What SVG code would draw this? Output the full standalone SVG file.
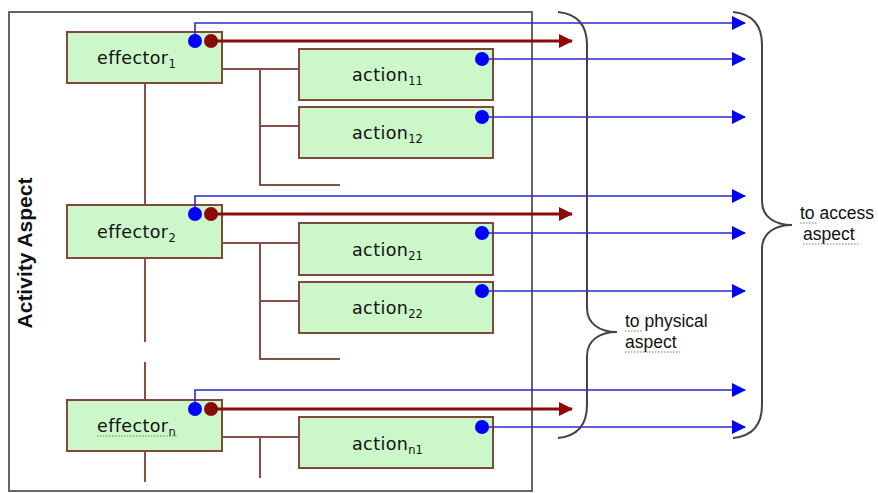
<svg xmlns="http://www.w3.org/2000/svg" width="878" height="493" viewBox="0 0 878 493">
  <style>
    .box { fill: #ccf7c8; stroke: #7d4a3c; stroke-width: 2; }
    .lbl { font-family: "DejaVu Sans", Verdana, sans-serif; font-size: 17.5px; fill: #111; letter-spacing: 0.4px; }
    .sub { font-size: 11.5px; letter-spacing: 0; }
    .tree { fill: none; stroke: #8b4c4c; stroke-width: 2; }
    .blue { fill: none; stroke: #2a2ad0; stroke-width: 1.6; }
    .red { fill: none; stroke: #8b0a0a; stroke-width: 3; }
    .bdot { fill: #0000ff; }
    .rdot { fill: #8b0a0a; }
    .brace { fill: none; stroke: #444; stroke-width: 2; }
    .note { font-family: "Liberation Sans", Arial, sans-serif; font-size: 17.5px; fill: #111; }
    .squig { fill: none; stroke: #3aa03a; stroke-width: 1; stroke-dasharray: 1.5 1.5; }
  </style>
  <defs>
    <marker id="ab" markerUnits="userSpaceOnUse" markerWidth="14" markerHeight="14" refX="13" refY="7" orient="auto">
      <path d="M0,0 L14,7 L0,14 Z" fill="#0000ff"/>
    </marker>
    <marker id="ar" markerUnits="userSpaceOnUse" markerWidth="14" markerHeight="14" refX="13" refY="7" orient="auto">
      <path d="M0,0 L14,7 L0,14 Z" fill="#8b0a0a"/>
    </marker>
  </defs>

  <rect width="878" height="493" fill="#ffffff"/>

  <!-- activity aspect frame -->
  <g id="activity-aspect">
    <rect x="9" y="12" width="523" height="479" fill="none" stroke="#666" stroke-width="2"/>
    <text x="0" y="0" transform="translate(32,253) rotate(-90)" text-anchor="middle" font-family="Liberation Sans, Arial, sans-serif" font-weight="bold" font-size="21" fill="#111">Activity Aspect</text>
  </g>

  <!-- structural tree lines -->
  <g id="tree">
    <path class="tree" d="M145,83 V205"/>
    <path class="tree" d="M145,258 V342 M145,362 V400 M145,451 V482"/>
    <path class="tree" d="M222,69 H299 M260,69 V185 H340 M260,126 H299"/>
    <path class="tree" d="M222,243 H299 M260,243 V359 H340 M260,301 H299"/>
    <path class="tree" d="M222,437 H299 M260,437 V478"/>
  </g>

  <!-- effectors -->
  <g id="effector1">
    <rect class="box" x="67" y="32" width="155" height="51"/>
    <text class="lbl" x="97" y="64">effector<tspan class="sub" dy="4">1</tspan></text>
  </g>
  <g id="effector2">
    <rect class="box" x="67" y="205" width="155" height="53"/>
    <text class="lbl" x="97" y="238">effector<tspan class="sub" dy="4">2</tspan></text>
  </g>
  <g id="effectorn">
    <rect class="box" x="67" y="400" width="155" height="51"/>
    <text class="lbl" x="97" y="432">effector<tspan class="sub" dy="4">n</tspan></text>
    <path class="squig" d="M97,436 H178"/>
  </g>

  <!-- actions -->
  <g id="action11">
    <rect class="box" x="299" y="49" width="194" height="51"/>
    <text class="lbl" x="352" y="81">action<tspan class="sub" dy="4">11</tspan></text>
  </g>
  <g id="action12">
    <rect class="box" x="299" y="107" width="194" height="51"/>
    <text class="lbl" x="352" y="139">action<tspan class="sub" dy="4">12</tspan></text>
  </g>
  <g id="action21">
    <rect class="box" x="299" y="223" width="194" height="52"/>
    <text class="lbl" x="352" y="256">action<tspan class="sub" dy="4">21</tspan></text>
  </g>
  <g id="action22">
    <rect class="box" x="299" y="282" width="194" height="51"/>
    <text class="lbl" x="352" y="314">action<tspan class="sub" dy="4">22</tspan></text>
  </g>
  <g id="actionn1">
    <rect class="box" x="299" y="417" width="194" height="51"/>
    <text class="lbl" x="352" y="450">action<tspan class="sub" dy="4">n1</tspan></text>
  </g>

  <!-- outgoing connectors -->
  <g id="connectors">
    <path class="blue" d="M195,41 V23 H745" marker-end="url(#ab)"/>
    <path class="red" d="M211,41 H572" marker-end="url(#ar)"/>
    <path class="blue" d="M482,59 H745" marker-end="url(#ab)"/>
    <path class="blue" d="M482,117 H745" marker-end="url(#ab)"/>

    <path class="blue" d="M195,214 V196 H745" marker-end="url(#ab)"/>
    <path class="red" d="M211,214 H572" marker-end="url(#ar)"/>
    <path class="blue" d="M482,233 H745" marker-end="url(#ab)"/>
    <path class="blue" d="M482,291 H745" marker-end="url(#ab)"/>

    <path class="blue" d="M195,409 V390 H745" marker-end="url(#ab)"/>
    <path class="red" d="M211,409 H572" marker-end="url(#ar)"/>
    <path class="blue" d="M482,427 H745" marker-end="url(#ab)"/>

    <circle class="bdot" cx="195" cy="41" r="7"/>
    <circle class="rdot" cx="211" cy="41" r="7"/>
    <circle class="bdot" cx="195" cy="214" r="7"/>
    <circle class="rdot" cx="211" cy="214" r="7"/>
    <circle class="bdot" cx="195" cy="409" r="7"/>
    <circle class="rdot" cx="211" cy="409" r="7"/>
    <circle class="bdot" cx="482" cy="59" r="7"/>
    <circle class="bdot" cx="482" cy="117" r="7"/>
    <circle class="bdot" cx="482" cy="233" r="7"/>
    <circle class="bdot" cx="482" cy="291" r="7"/>
    <circle class="bdot" cx="482" cy="427" r="7"/>
  </g>

  <!-- grouping braces -->
  <g id="physical-aspect">
    <path class="brace" d="M558,12 C578,14 587,25 587,45 L587,308 C587,324 600,332 617,332 C600,332 587,340 587,356 L587,405 C587,425 578,436 558,438"/>
    <text class="note" x="625" y="327">to physical</text>
    <text class="note" x="625" y="348">aspect</text>
    <path class="squig" d="M625,331 H643 M625,352 H680"/>
  </g>
  <g id="access-aspect">
    <path class="brace" d="M733,12 C753,14 762,25 762,45 L762,201 C762,217 775,225 792,225 C775,225 762,233 762,249 L762,405 C762,425 753,436 733,438"/>
    <text class="note" x="800" y="219">to access</text>
    <text class="note" x="803" y="240">aspect</text>
    <path class="squig" d="M800,223 H818 M803,244 H858"/>
  </g>
</svg>
